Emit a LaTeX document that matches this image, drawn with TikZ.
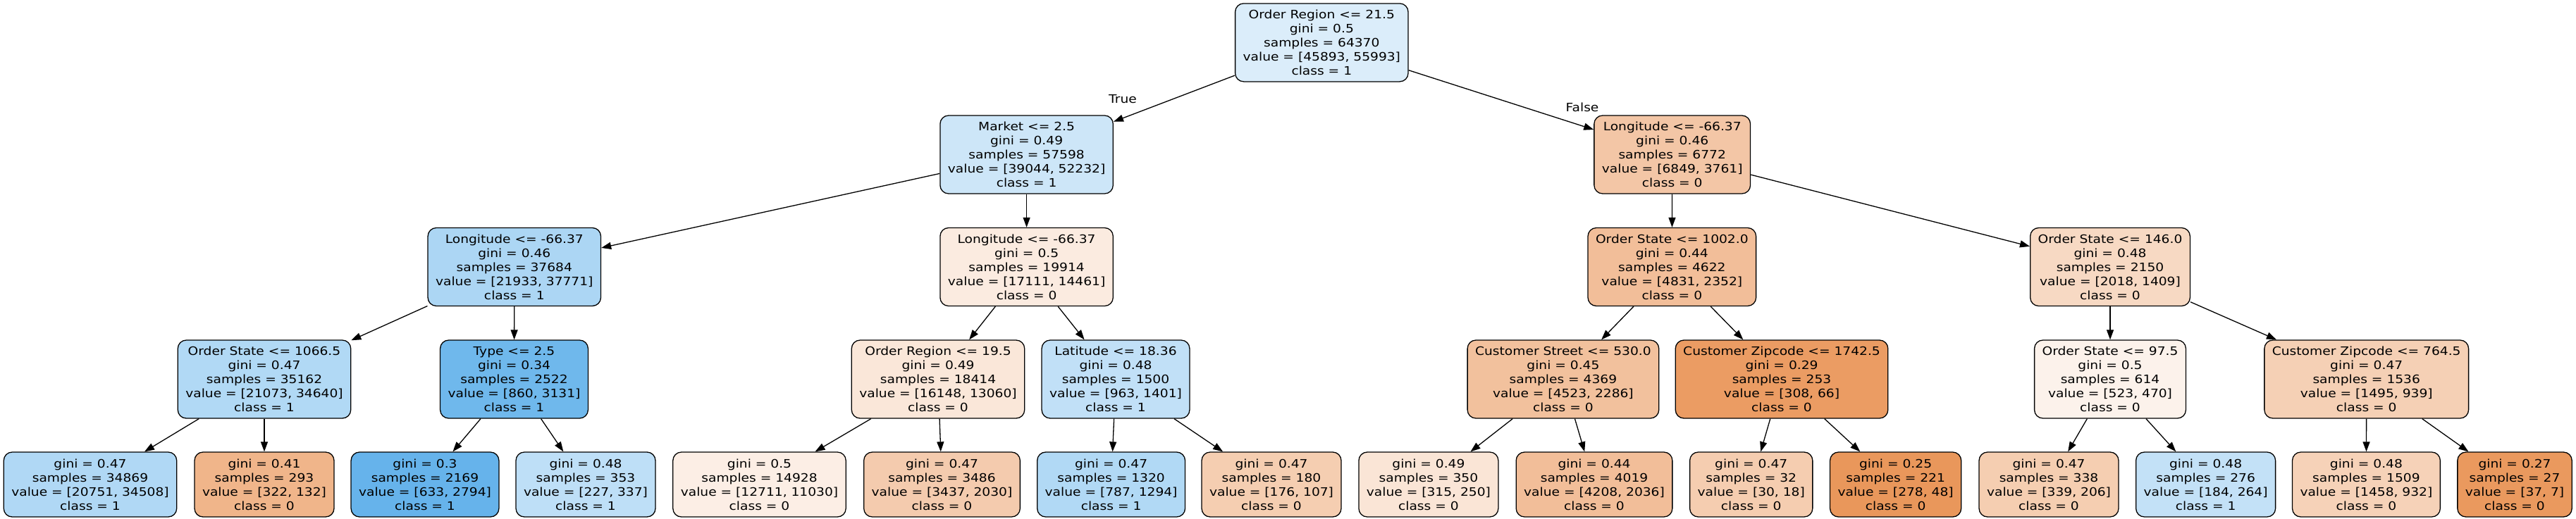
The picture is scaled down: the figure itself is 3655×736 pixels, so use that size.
\documentclass[tikz,border=0pt]{standalone}
\usepackage{fontspec}
\setmainfont{DejaVu Sans}[FakeStretch=1.13]
\usetikzlibrary{arrows.meta}
\definecolor{czero}{RGB}{229,129,57}
\definecolor{cone}{RGB}{57,157,229}
\tikzset{
  treebox/.style={draw=black, line width=1.3pt, rounded corners=12pt,
    inner xsep=11pt, inner ysep=0pt, align=center,
    font=\fontsize{16.5}{20}\selectfont},
  split/.style={treebox, minimum height=111pt},
  leafbox/.style={treebox, minimum height=92pt},
  conn/.style={line width=1.3pt, -{Triangle[length=14pt,width=10pt]}},
  elabel/.style={inner sep=0pt, font=\fontsize{16.5}{20}\selectfont}
}
\begin{document}
\begin{tikzpicture}[x=1pt,y=-1pt]
\useasboundingbox (0,0) rectangle (3655,736);
% level 0
\node[split, fill=cone!18!white] (n0) at (1875.3,60.4) {Order Region <= 21.5\\gini = 0.5\\samples = 64370\\value = [45893, 55993]\\class = 1};
% level 1
\node[split, fill=cone!25.2!white] (n1) at (1456.6,219.5) {Market <= 2.5\\gini = 0.49\\samples = 57598\\value = [39044, 52232]\\class = 1};
\node[split, fill=czero!45.1!white] (n2) at (2372.7,219.5) {Longitude <= -66.37\\gini = 0.46\\samples = 6772\\value = [6849, 3761]\\class = 0};
% level 2
\node[split, fill=cone!41.9!white] (n3) at (729.8,379) {Longitude <= -66.37\\gini = 0.46\\samples = 37684\\value = [21933, 37771]\\class = 1};
\node[split, fill=czero!15.5!white] (n4) at (1456.6,379) {Longitude <= -66.37\\gini = 0.5\\samples = 19914\\value = [17111, 14461]\\class = 0};
\node[split, fill=czero!51.3!white] (n5) at (2372.3,379) {Order State <= 1002.0\\gini = 0.44\\samples = 4622\\value = [4831, 2352]\\class = 0};
\node[split, fill=czero!30.2!white] (n6) at (2994,379) {Order State <= 146.0\\gini = 0.48\\samples = 2150\\value = [2018, 1409]\\class = 0};
% level 3
\node[split, fill=cone!39.2!white] (n7) at (375,538.5) {Order State <= 1066.5\\gini = 0.47\\samples = 35162\\value = [21073, 34640]\\class = 1};
\node[split, fill=cone!72.5!white] (n8) at (729.5,538.5) {Type <= 2.5\\gini = 0.34\\samples = 2522\\value = [860, 3131]\\class = 1};
\node[split, fill=czero!19.1!white] (n9) at (1331,538.5) {Order Region <= 19.5\\gini = 0.49\\samples = 18414\\value = [16148, 13060]\\class = 0};
\node[split, fill=cone!31.3!white] (n10) at (1583,538.5) {Latitude <= 18.36\\gini = 0.48\\samples = 1500\\value = [963, 1401]\\class = 1};
\node[split, fill=czero!49.5!white] (n11) at (2217.9,538.5) {Customer Street <= 530.0\\gini = 0.45\\samples = 4369\\value = [4523, 2286]\\class = 0};
\node[split, fill=czero!78.6!white] (n12) at (2528,538.5) {Customer Zipcode <= 1742.5\\gini = 0.29\\samples = 253\\value = [308, 66]\\class = 0};
\node[split, fill=czero!10.1!white] (n13) at (2994,538.5) {Order State <= 97.5\\gini = 0.5\\samples = 614\\value = [523, 470]\\class = 0};
\node[split, fill=czero!37.2!white] (n14) at (3357.7,538.5) {Customer Zipcode <= 764.5\\gini = 0.47\\samples = 1536\\value = [1495, 939]\\class = 0};
% leaves
\node[leafbox, fill=cone!39.9!white] (l1) at (128,688) {gini = 0.47\\samples = 34869\\value = [20751, 34508]\\class = 1};
\node[leafbox, fill=czero!59!white] (l2) at (375,688) {gini = 0.41\\samples = 293\\value = [322, 132]\\class = 0};
\node[leafbox, fill=cone!77.3!white] (l3) at (603,688) {gini = 0.3\\samples = 2169\\value = [633, 2794]\\class = 1};
\node[leafbox, fill=cone!32.6!white] (l4) at (831,688) {gini = 0.48\\samples = 353\\value = [227, 337]\\class = 1};
\node[leafbox, fill=czero!13.2!white] (l5) at (1077.5,688) {gini = 0.5\\samples = 14928\\value = [12711, 11030]\\class = 0};
\node[leafbox, fill=czero!40.9!white] (l6) at (1336.5,688) {gini = 0.47\\samples = 3486\\value = [3437, 2030]\\class = 0};
\node[leafbox, fill=cone!39.2!white] (l7) at (1576.6,688) {gini = 0.47\\samples = 1320\\value = [787, 1294]\\class = 1};
\node[leafbox, fill=czero!39.2!white] (l8) at (1804,688) {gini = 0.47\\samples = 180\\value = [176, 107]\\class = 0};
\node[leafbox, fill=czero!20.6!white] (l9) at (2026.9,688) {gini = 0.49\\samples = 350\\value = [315, 250]\\class = 0};
\node[leafbox, fill=czero!51.6!white] (l10) at (2262,688) {gini = 0.44\\samples = 4019\\value = [4208, 2036]\\class = 0};
\node[leafbox, fill=czero!40!white] (l11) at (2484.7,688) {gini = 0.47\\samples = 32\\value = [30, 18]\\class = 0};
\node[leafbox, fill=czero!82.7!white] (l12) at (2689.6,688) {gini = 0.25\\samples = 221\\value = [278, 48]\\class = 0};
\node[leafbox, fill=czero!39.2!white] (l13) at (2907,688) {gini = 0.47\\samples = 338\\value = [339, 206]\\class = 0};
\node[leafbox, fill=cone!30.3!white] (l14) at (3129.6,688) {gini = 0.48\\samples = 276\\value = [184, 264]\\class = 1};
\node[leafbox, fill=czero!36.1!white] (l15) at (3357.4,688) {gini = 0.48\\samples = 1509\\value = [1458, 932]\\class = 0};
\node[leafbox, fill=czero!81.1!white] (l16) at (3568,688) {gini = 0.27\\samples = 27\\value = [37, 7]\\class = 0};
% edge labels
\node[elabel] (ltrue) at (1593,141) {True};
\node[elabel] (lfalse) at (2245,152) {False};
% connectors
\draw[conn] (n0) -- (n1);
\draw[conn] (n0) -- (n2);
\draw[conn] (n1) -- (n3);
\draw[conn] (n1) -- (n4);
\draw[conn] (n2) -- (n5);
\draw[conn] (n2) -- (n6);
\draw[conn] (n3) -- (n7);
\draw[conn] (n3) -- (n8);
\draw[conn] (n4) -- (n9);
\draw[conn] (n4) -- (n10);
\draw[conn] (n5) -- (n11);
\draw[conn] (n5) -- (n12);
\draw[conn] (n6) -- (n13);
\draw[conn] (n6) -- (n14);
\draw[conn] (n7) -- (l1);
\draw[conn] (n7) -- (l2);
\draw[conn] (n8) -- (l3);
\draw[conn] (n8) -- (l4);
\draw[conn] (n9) -- (l5);
\draw[conn] (n9) -- (l6);
\draw[conn] (n10) -- (l7);
\draw[conn] (n10) -- (l8);
\draw[conn] (n11) -- (l9);
\draw[conn] (n11) -- (l10);
\draw[conn] (n12) -- (l11);
\draw[conn] (n12) -- (l12);
\draw[conn] (n13) -- (l13);
\draw[conn] (n13) -- (l14);
\draw[conn] (n14) -- (l15);
\draw[conn] (n14) -- (l16);
\end{tikzpicture}
\end{document}
